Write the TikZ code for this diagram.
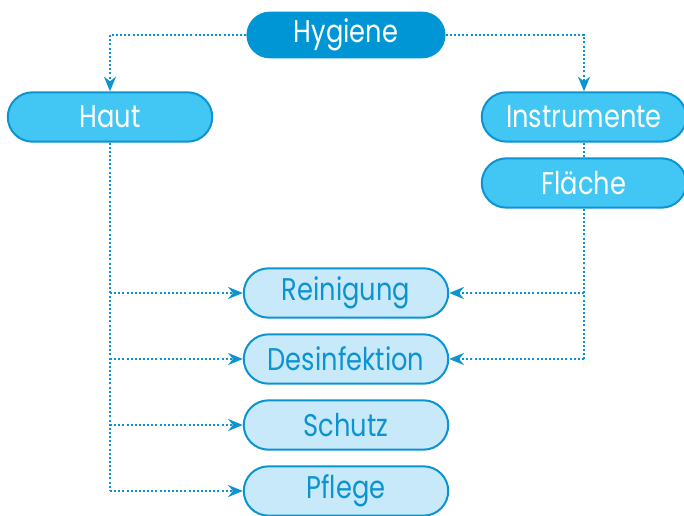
\documentclass[tikz,border=0pt]{standalone}
\usepackage{fontspec}
\setmainfont{Poppins}[FakeStretch=0.82]
\usepackage{tikz}
\usetikzlibrary{arrows.meta,positioning,shapes.misc}
\definecolor{hygblue}{HTML}{0096D6}
\definecolor{midblue}{HTML}{42C7F4}
\definecolor{lightblue}{HTML}{C7E9F9}
\definecolor{edgeblue}{HTML}{0B93D2}

\tikzset{
  topbox/.style={rounded rectangle, fill=hygblue, text=white, minimum width=156pt, minimum height=35pt},
  midbox/.style={rounded rectangle, draw=edgeblue, line width=1.5pt, fill=midblue, text=white, minimum width=160pt, minimum height=37pt},
  lowbox/.style={rounded rectangle, draw=edgeblue, line width=1.5pt, fill=lightblue, text=edgeblue, minimum width=160pt, minimum height=37pt},
  link/.style={edgeblue, line width=1.5pt, dash pattern=on 1.5pt off 1.6pt},
  tip/.style={-{Stealth[length=11pt,width=9pt]}}
}

\begin{document}
\begin{tikzpicture}[x=0.75pt,y=-0.75pt,font=\fontsize{23.5}{26}\selectfont]
\useasboundingbox (0,0) rectangle (684,516);
\node [topbox] (hyg) at (346,35) {Hygiene};
\node [midbox] (haut) at (110,117) {Haut};
\node [midbox] (instr) at (584,117) {Instrumente};
\node [midbox] (flae) at (584,183) {Fläche};
\node [lowbox] (rein) at (346,293) {Reinigung};
\node [lowbox] (desi) at (346,359) {Desinfektion};
\node [lowbox] (schu) at (346,425) {Schutz};
\node [lowbox] (pfle) at (346,491) {Pflege};
% from Hygiene
\draw [link,tip] (hyg.west) -| (haut.north);
\draw [link,tip] (hyg.east) -| (instr.north);
\draw [link] (instr.south) -- (flae.north);
% Haut branch
\draw [link] (haut.south) -- (haut.south |- pfle.west);
\draw [link,tip] (haut.south |- rein.west) -- (rein.west);
\draw [link,tip] (haut.south |- desi.west) -- (desi.west);
\draw [link,tip] (haut.south |- schu.west) -- (schu.west);
\draw [link,tip] (haut.south |- pfle.west) -- (pfle.west);
% Flaeche branch
\draw [link] (flae.south) -- (flae.south |- desi.east);
\draw [link,tip] (flae.south |- rein.east) -- (rein.east);
\draw [link,tip] (flae.south |- desi.east) -- (desi.east);
\end{tikzpicture}
\end{document}
